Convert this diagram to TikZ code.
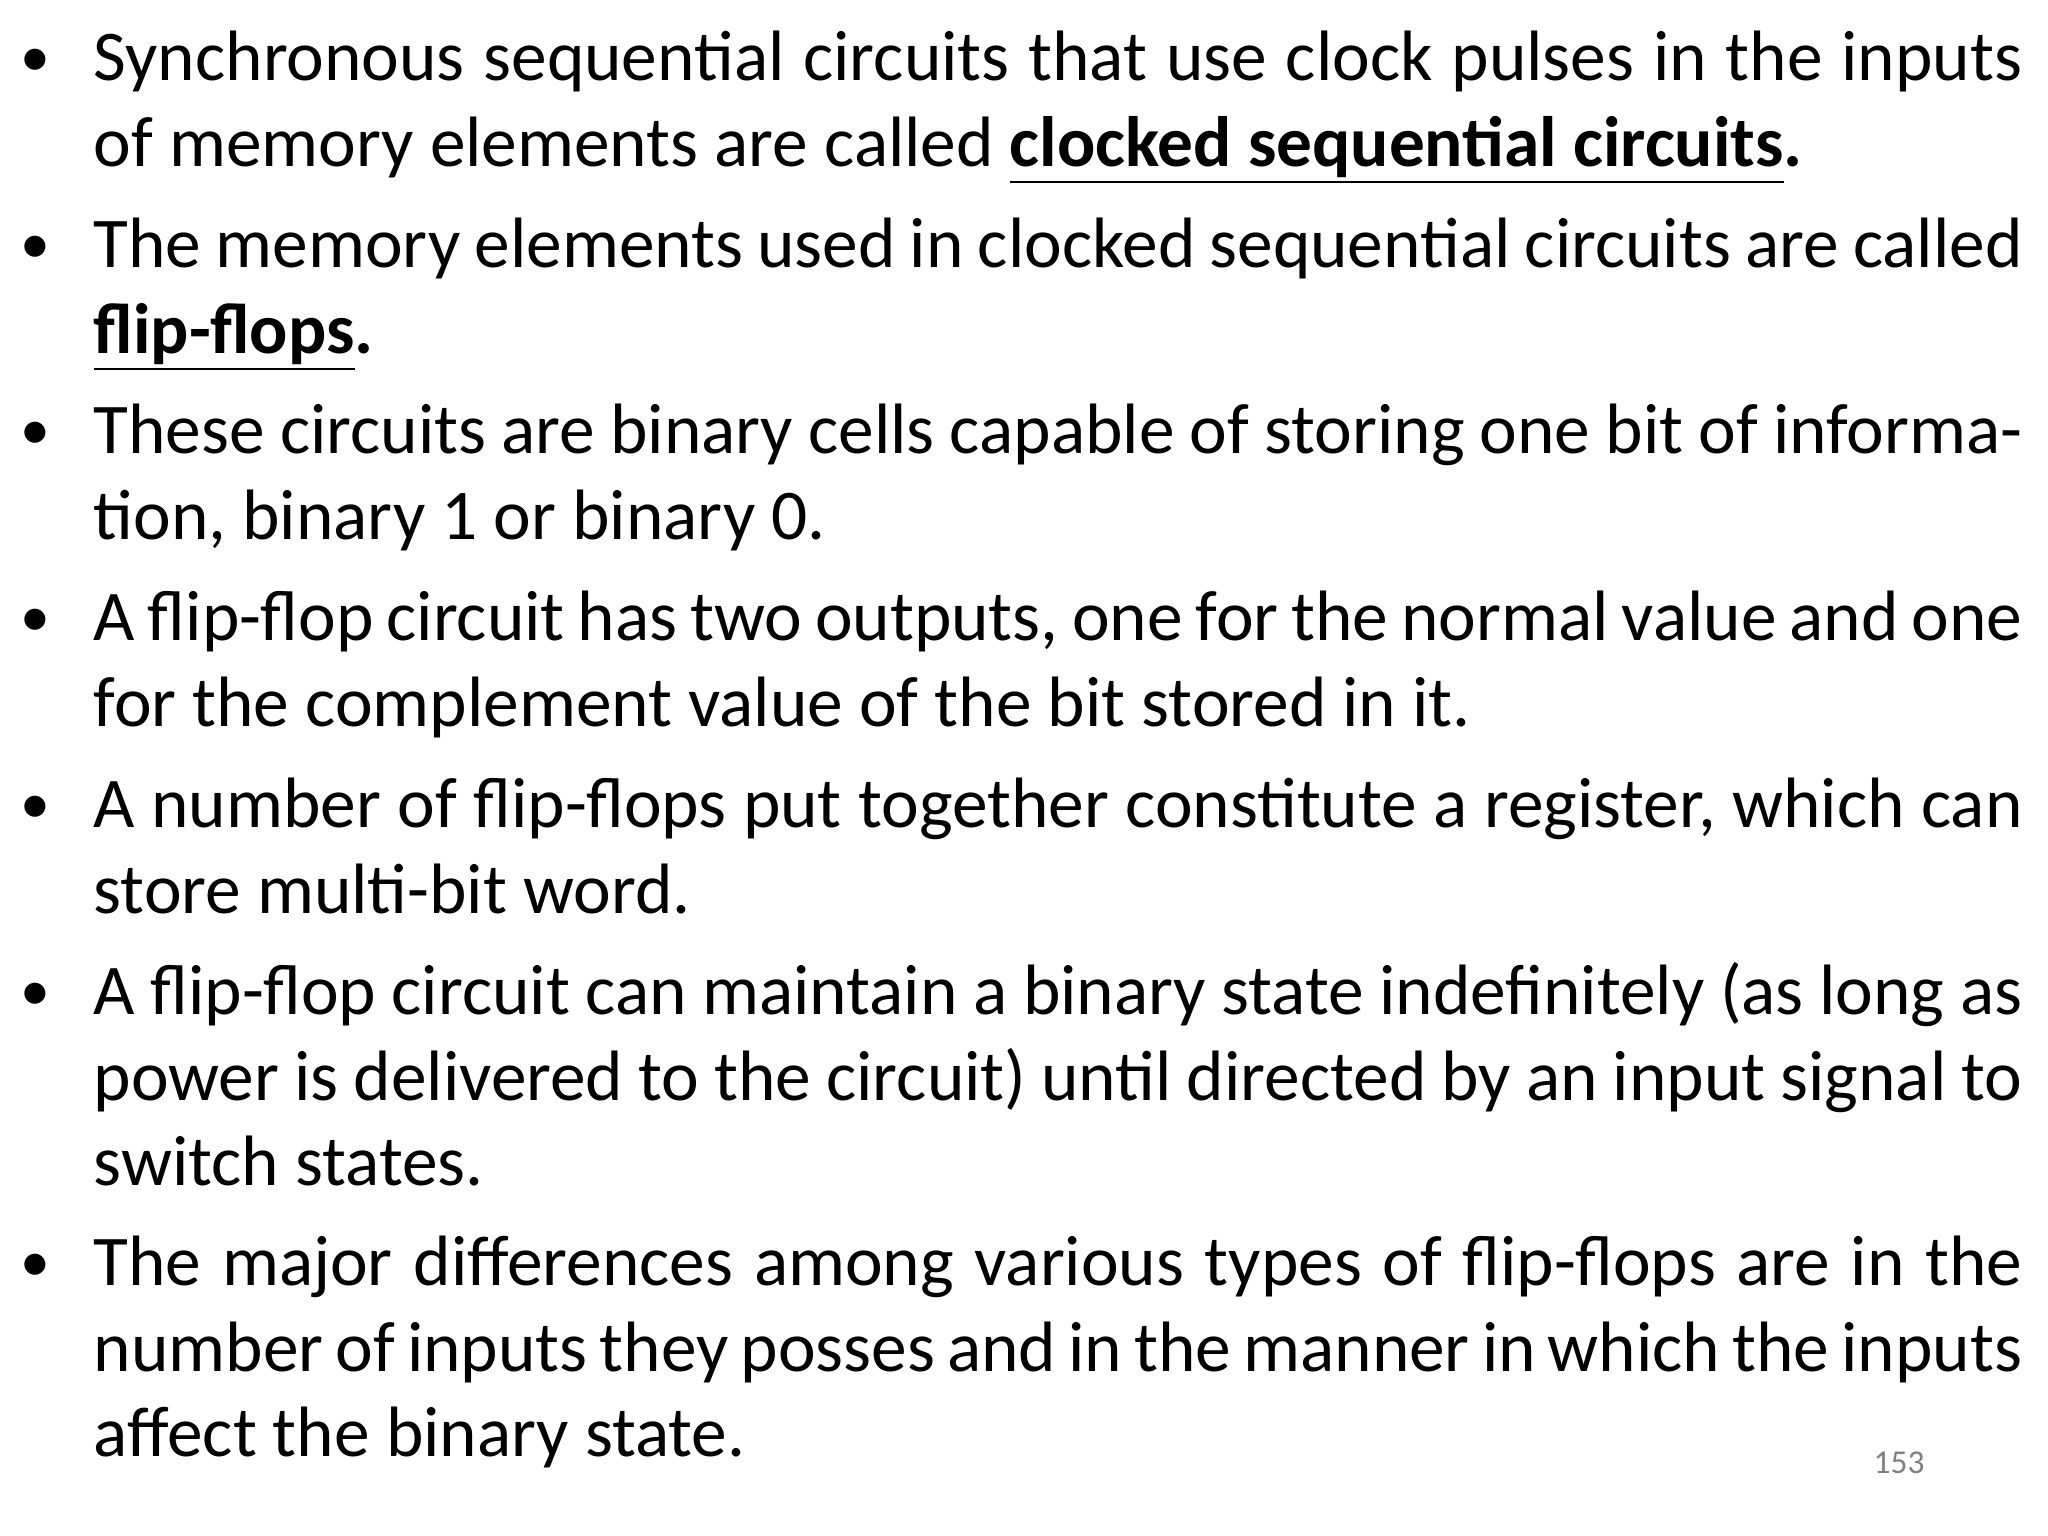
\documentclass[tikz,border=0pt]{standalone}
\usepackage{fontspec}
\setmainfont{Carlito}
\newcommand{\ulb}[1]{\textbf{\underline{#1}}}
\newcommand{\nohyph}{\hyphenpenalty=10000\relax\exhyphenpenalty=10000\relax}
\begin{document}
\begin{tikzpicture}[x=1cm,y=1cm,
  para/.style={anchor=base west,inner sep=0pt,text width=19.29cm,align=justify,font=\fontsize{20.3}{24.2}\selectfont},
  bul/.style={anchor=base west,inner sep=0pt,font=\fontsize{17}{20}\selectfont}]
\useasboundingbox (0,0) rectangle (20.48,15.36);
\fill[white] (0,0) rectangle (20.48,15.36);
\foreach \n/\y in {1/14.55,2/12.68,3/10.82,4/8.95,5/7.08,6/5.21,7/2.50}{
  \node[bul] (b\n) at (0.20,\y+0.04) {•};
}
\node[para] (p1) at (0.93,14.55) {\nohyph Synchronous sequential circuits that use clock pulses in the inputs of memory elements are called \ulb{clocked sequential circuits}\textbf{.}};
\node[para] (p2) at (0.93,12.68) {\nohyph The memory elements used in clocked sequential circuits are called \ulb{flip-flops}\textbf{.}};
\node[para] (p3) at (0.93,10.82) {\nohyph These circuits are binary cells capable of storing one bit of information, binary 1 or binary 0.};
\node[para] (p4) at (0.93,8.95) {\nohyph A flip-flop circuit has two outputs, one for the normal value and one for the complement value of the bit stored in it.};
\node[para] (p5) at (0.93,7.08) {\nohyph A number of flip-flops put together constitute a register, which can store multi-bit word.};
\node[para] (p6) at (0.93,5.21) {\nohyph A flip-flop circuit can maintain a binary state indefinitely (as long as power is delivered to the circuit) until directed by an input signal to switch states.};
\node[para] (p7) at (0.93,2.50) {\nohyph The major differences among various types of flip-flops are in the number of inputs they posses and in the manner in which the inputs affect the binary state.};
\node[anchor=base west,inner sep=0pt,text=gray,font=\fontsize{9.5}{11}\selectfont] (pg) at (18.73,0.62) {153};
\end{tikzpicture}
\end{document}
